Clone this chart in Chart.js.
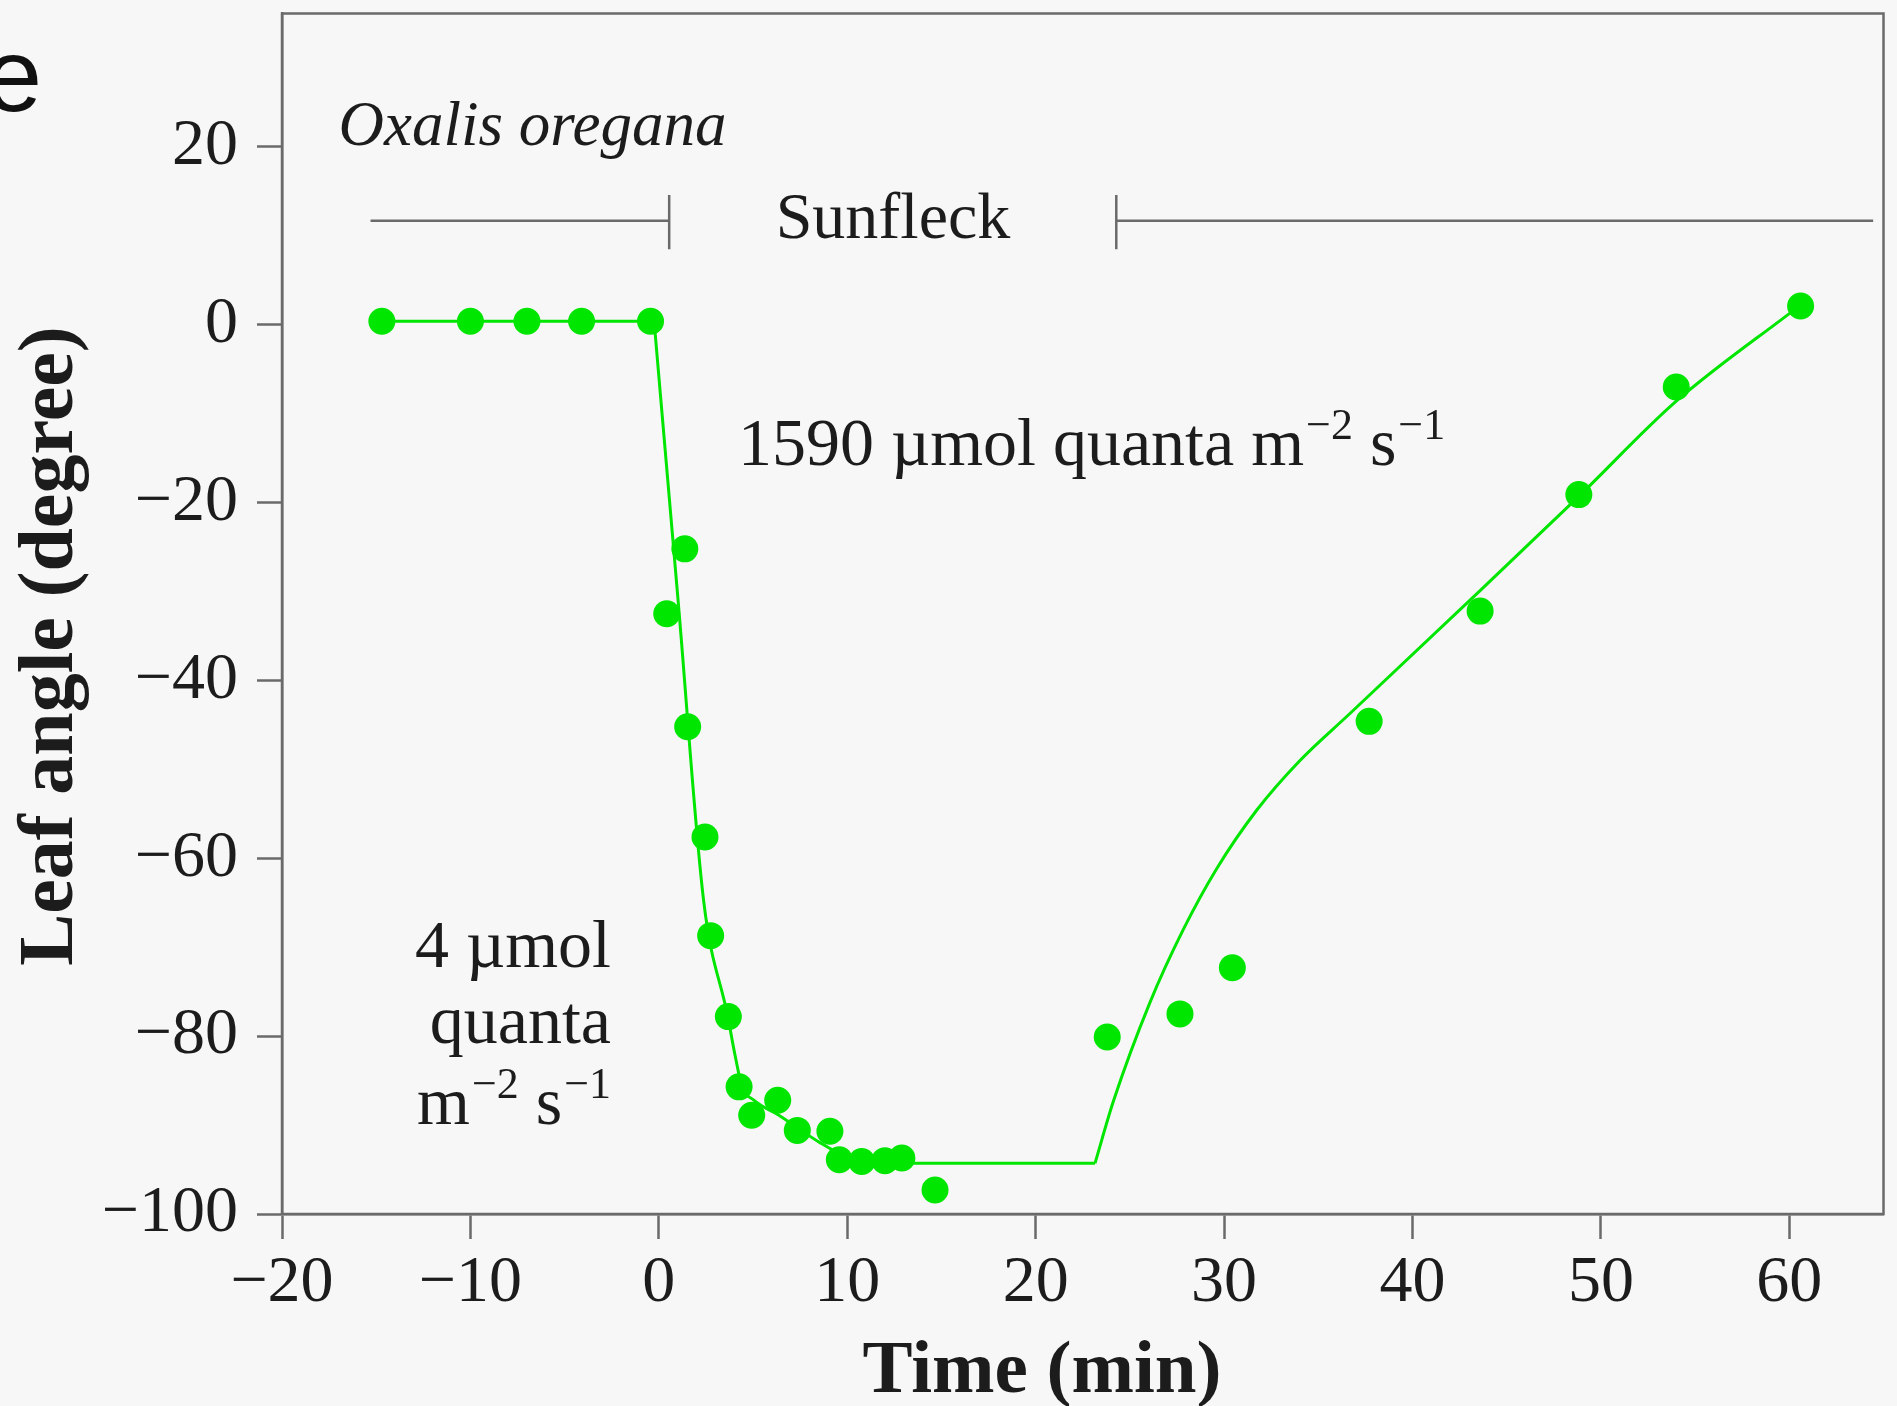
<!DOCTYPE html>
<html>
<head>
<meta charset="utf-8">
<script src="https://cdn.jsdelivr.net/npm/chart.js@4.4.1/dist/chart.umd.min.js"></script>
<style>
  html, body { margin: 0; padding: 0; background: #f7f7f7; }
  #wrap { width: 1897px; height: 1406px; position: relative; }
  canvas { display: block; }
</style>
</head>
<body>
<div id="wrap"><canvas id="c" width="1897" height="1406"></canvas></div>
<script>
// ---- Data ----
const pointTime  = [-14.7, -10.0, -7.0, -4.1, -0.44, 1.38, 0.42, 1.53, 2.45, 2.75, 3.69, 4.26, 4.93, 6.31, 7.35, 9.08, 9.58, 10.77, 12.0, 12.9, 14.66, 23.8, 27.66, 30.44, 37.7, 43.59, 48.83, 54.0, 60.6];
const pointAngle = [0.4, 0.4, 0.4, 0.4, 0.4, -25.2, -32.5, -45.2, -57.6, -68.7, -77.8, -85.7, -88.9, -87.2, -90.6, -90.7, -93.9, -94.1, -94.0, -93.7, -97.3, -80.1, -77.5, -72.3, -44.6, -32.2, -19.1, -7.0, 2.1];

// fitted curve, in three pieces (before sunfleck, closing, reopening)
const baselineTime  = [-14.7, -0.25];
const baselineAngle = [0.4, 0.4];
const closingTime   = [-0.25, 1.03, 2.38, 3.66, 4.07, 4.42, 5.04, 6.45, 8.57, 9.63, 11.4, 13.5, 23.15];
const closingAngle  = [0.4, -31.2, -64.8, -77.8, -82.4, -85.7, -87.2, -89.0, -92.0, -93.2, -94.1, -94.3, -94.3];
const reopeningTime  = [23.15, 24.13, 26.07, 27.84, 29.6, 31.73, 34.03, 36.64, 43.59, 48.83, 54.0, 60.4];
const reopeningAngle = [-94.3, -87.3, -76.2, -68.0, -61.2, -54.6, -49.0, -43.8, -29.9, -19.3, -8.6, 1.9];

const xTickValues = [-20, -10, 0, 10, 20, 30, 40, 50, 60];
const yTickValues = [-100, -80, -60, -40, -20, 0, 20];
const xRange = [-20, 65];
const yRange = [-100, 35];

const xTitle = 'Time (min)';
const yTitle = 'Leaf angle (degree)';
const speciesLabel = 'Oxalis oregana';
const periodLabel = 'Sunfleck';
const panelLetter = 'e';
const highLight = [{t: '1590 µmol quanta m'}, {t: '\u22122', sup: true}, {t: ' s'}, {t: '\u22121', sup: true}];
const lowLightLines = [
  [{t: '4 µmol'}],
  [{t: 'quanta'}],
  [{t: 'm'}, {t: '\u22122', sup: true}, {t: ' s'}, {t: '\u22121', sup: true}]
];

// ---- Styles ----
const GREEN = '#00e600';
const AXIS = '#6a6a6a';
const TEXT = '#1c1c1c';
const SERIF = '"Liberation Serif", "DejaVu Serif", serif';

function fmt(v) { return v < 0 ? '\u2212' + Math.abs(v) : String(v); }
function pairs(xs, ys) { return xs.map((x, i) => ({x: x, y: ys[i]})); }

function drawRich(ctx, parts, x, y, align, size) {
  const supSize = Math.round(size * 0.64);
  const rise = size * 0.38;
  let total = 0;
  const widths = parts.map(p => {
    ctx.font = (p.sup ? supSize : size) + 'px ' + SERIF;
    const w = ctx.measureText(p.t).width + (p.sup ? 2 : 0);
    total += w;
    return w;
  });
  let cx = align === 'right' ? x - total : x;
  ctx.textAlign = 'left';
  ctx.textBaseline = 'alphabetic';
  parts.forEach((p, i) => {
    ctx.font = (p.sup ? supSize : size) + 'px ' + SERIF;
    ctx.fillText(p.t, cx + (p.sup ? 2 : 0), p.sup ? y - rise : y);
    cx += widths[i];
  });
}

const annotations = {
  id: 'annotations',
  beforeDatasetsDraw(chart) {
    const {ctx, scales: {x, y}} = chart;
    const px = v => x.getPixelForValue(v);
    const py = v => y.getPixelForValue(v);
    ctx.save();
    ctx.fillStyle = TEXT;

    ctx.font = 'italic 63px ' + SERIF;
    ctx.textAlign = 'left';
    ctx.textBaseline = 'alphabetic';
    ctx.fillText(speciesLabel, px(-17.0), py(20.2));

    ctx.strokeStyle = AXIS;
    ctx.lineWidth = 2.5;
    ctx.beginPath();
    ctx.moveTo(px(-15.3), py(11.7)); ctx.lineTo(px(0.55), py(11.7));
    ctx.moveTo(px(0.55), py(14.6)); ctx.lineTo(px(0.55), py(8.5));
    ctx.moveTo(px(24.28), py(11.7)); ctx.lineTo(px(64.45), py(11.7));
    ctx.moveTo(px(24.28), py(14.6)); ctx.lineTo(px(24.28), py(8.5));
    ctx.stroke();

    ctx.font = '66px ' + SERIF;
    ctx.fillText(periodLabel, px(6.2), py(9.75));

    drawRich(ctx, highLight, px(4.2), py(-15.8), 'left', 68);
    const baselines = [-72.2, -80.8, -89.9];
    lowLightLines.forEach((parts, i) => drawRich(ctx, parts, px(-2.54), py(baselines[i]), 'right', 68));
    ctx.restore();
  },
  afterDraw(chart) {
    const {ctx, chartArea: a} = chart;
    ctx.save();
    ctx.strokeStyle = AXIS;
    ctx.lineWidth = 2.5;
    ctx.strokeRect(a.left, a.top, a.right - a.left, a.bottom - a.top);

    ctx.fillStyle = TEXT;
    ctx.font = 'bold 75px ' + SERIF;
    ctx.textAlign = 'center';
    ctx.textBaseline = 'alphabetic';
    ctx.fillText(xTitle, 1042, 1392);
    ctx.save();
    ctx.translate(72, 646);
    ctx.rotate(-Math.PI / 2);
    ctx.font = 'bold 78px ' + SERIF;
    ctx.fillText(yTitle, 0, 0);
    ctx.restore();

    ctx.fillStyle = '#111';
    ctx.font = '104px "Liberation Sans", Arial, sans-serif';
    ctx.textAlign = 'right';
    ctx.textBaseline = 'alphabetic';
    ctx.fillText(panelLetter, 42, 111);
    ctx.restore();
  }
};

const tickFont = {family: SERIF, size: 66, lineHeight: 1.2};
const lineStyle = {borderColor: GREEN, backgroundColor: GREEN, borderWidth: 3, pointRadius: 0, pointHoverRadius: 0, showLine: true, fill: false, cubicInterpolationMode: 'monotone', order: 1};

function zeroPadding(s) { s.paddingTop = 0; s.paddingBottom = 0; s.paddingLeft = 0; s.paddingRight = 0; }

new Chart(document.getElementById('c').getContext('2d'), {
  type: 'scatter',
  data: {
    datasets: [
      {
        label: 'Measured leaf angle',
        data: pairs(pointTime, pointAngle),
        backgroundColor: GREEN,
        borderColor: GREEN,
        borderWidth: 0,
        pointRadius: 13.5,
        pointHoverRadius: 13.5,
        showLine: false,
        order: 0
      },
      Object.assign({label: 'Fit (before sunfleck)', data: pairs(baselineTime, baselineAngle)}, lineStyle),
      Object.assign({label: 'Fit (closing)', data: pairs(closingTime, closingAngle)}, lineStyle),
      Object.assign({label: 'Fit (reopening)', data: pairs(reopeningTime, reopeningAngle)}, lineStyle)
    ]
  },
  options: {
    responsive: false,
    animation: false,
    devicePixelRatio: 1,
    layout: {padding: {top: 11, right: 13, left: 0, bottom: 0}},
    plugins: {legend: {display: false}, tooltip: {enabled: false}},
    scales: {
      x: {
        type: 'linear',
        min: xRange[0],
        max: xRange[1],
        afterBuildTicks: s => { s.ticks = xTickValues.map(v => ({value: v})); },
        afterFit: s => { s.height = 192; zeroPadding(s); },
        ticks: {autoSkip: false, maxRotation: 0, color: TEXT, font: tickFont, padding: 5, callback: v => fmt(v)},
        grid: {display: true, drawOnChartArea: false, drawTicks: true, tickLength: 25, tickWidth: 2.5, tickColor: AXIS, color: 'rgba(0,0,0,0)'},
        border: {display: true, color: AXIS, width: 2.5},
        title: {display: false, text: xTitle}
      },
      y: {
        type: 'linear',
        min: yRange[0],
        max: yRange[1],
        afterBuildTicks: s => { s.ticks = yTickValues.map(v => ({value: v})); },
        afterFit: s => { s.width = 282; zeroPadding(s); },
        ticks: {autoSkip: false, color: TEXT, font: tickFont, padding: 19, callback: v => fmt(v)},
        grid: {display: true, drawOnChartArea: false, drawTicks: true, tickLength: 25, tickWidth: 2.5, tickColor: AXIS, color: 'rgba(0,0,0,0)'},
        border: {display: true, color: AXIS, width: 2.5},
        title: {display: false, text: yTitle}
      }
    }
  },
  plugins: [annotations]
});
</script>
</body>
</html>
